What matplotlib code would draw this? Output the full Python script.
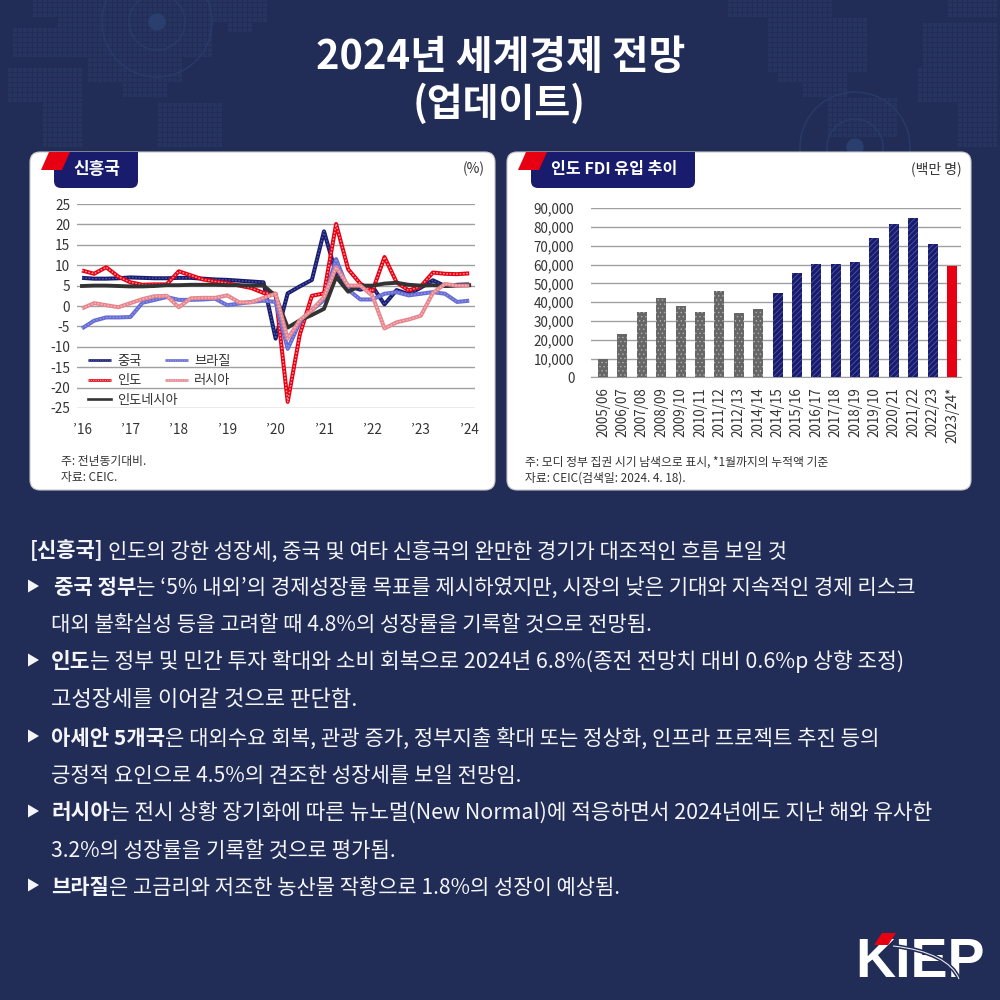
import matplotlib
matplotlib.use('Agg')
import matplotlib.pyplot as plt
import matplotlib.patheffects as pe
from matplotlib.patches import FancyBboxPatch, Polygon, Circle, Rectangle, PathPatch
from matplotlib.path import Path

plt.rcParams['font.family'] = ['Noto Sans CJK KR', 'DejaVu Sans']
plt.rcParams['axes.unicode_minus'] = False

# quarterly y/y growth, 2016Q1 - 2024Q1
china = [6.9, 6.7, 6.7, 6.8, 7.0, 6.9, 6.8, 6.8, 6.9, 6.9, 6.7, 6.5, 6.4, 6.2, 6.0, 5.8, -8.0, 3.1, 4.8,
         6.4, 18.3, 7.9, 4.9, 4.0, 4.8, 0.4, 3.9, 2.9, 4.5, 6.3, 4.9, 5.2, 5.3]
india = [8.7, 7.9, 9.5, 7.2, 5.8, 5.2, 5.3, 5.3, 8.5, 7.5, 6.5, 6.0, 5.6, 5.0, 4.4, 3.2, 3.0, -23.5, -7.0,
         2.5, 3.1, 20.1, 9.0, 5.5, 3.6, 12.0, 5.8, 3.8, 4.8, 8.2, 7.9, 7.8, 8.0]
brazil = [-5.5, -3.6, -2.8, -2.8, -2.7, 0.8, 1.5, 2.2, 1.5, 1.5, 1.6, 1.8, 0.2, 0.6, 1.0, 1.3, 1.0, -10.5, -4.0,
          -1.0, 1.5, 11.5, 4.0, 1.6, 1.6, 3.0, 3.4, 2.6, 3.0, 3.4, 3.0, 1.0, 1.3]
russia = [-0.6, 0.7, 0.2, -0.3, 0.7, 1.7, 2.4, 2.5, -0.3, 1.9, 2.0, 2.0, 2.6, 0.9, 0.9, 2.0, 3.0, -8.0, -3.5,
          -1.0, 2.2, 9.5, 5.0, 5.0, 2.5, -5.5, -4.0, -3.3, -2.4, 3.2, 5.4, 5.0, 5.0]
indonesia = [4.9, 5.0, 5.0, 4.9, 4.8, 4.8, 4.9, 5.1, 5.1, 5.2, 5.2, 5.2, 5.1, 5.1, 5.0, 5.0, 2.5, -5.3, -3.5,
             -2.2, -0.7, 7.1, 3.5, 5.0, 5.0, 5.5, 5.7, 5.2, 5.0, 5.1, 4.9, 5.0, 5.1]
year_labels = ["’16", "’17", "’18", "’19", "’20", "’21", "’22", "’23", "’24"]

fy_labels = ['2005/06', '2006/07', '2007/08', '2008/09', '2009/10', '2010/11', '2011/12', '2012/13', '2014/14',
             '2014/15', '2015/16', '2016/17', '2017/18', '2018/19', '2019/10', '2020/21', '2021/22', '2022/23',
             '2023/24*']
fdi = [10000, 23100, 34800, 42100, 37800, 34800, 46000, 34200, 36300, 45100, 55600, 60200, 60200, 61200,
       74300, 81700, 84800, 71000, 59500]

# parts are (text, bold), then left edge, text centre and right edge in pixels
body_lines = [
    ([('[신흥국]', True), (' 인도의 강한 성장세, 중국 및 여타 신흥국의 완만한 경기가 대조적인 흐름 보일 것', False)], 30, 550, 788),
    ([('중국 정부', True), ('는 ‘5% 내외’의 경제성장률 목표를 제시하였지만, 시장의 낮은 기대와 지속적인 경제 리스크', False)], 54, 586, 917),
    ([('대외 불확실성 등을 고려할 때 4.8%의 성장률을 기록할 것으로 전망됨.', False)], 51, 623, 652),
    ([('인도', True), ('는 정부 및 민간 투자 확대와 소비 회복으로 2024년 6.8%(종전 전망치 대비 0.6%p 상향 조정)', False)], 51, 660, 905),
    ([('고성장세를 이어갈 것으로 판단함.', False)], 51, 698, 357),
    ([('아세안 5개국', True), ('은 대외수요 회복, 관광 증가, 정부지출 확대 또는 정상화, 인프라 프로젝트 추진 등의', False)], 51, 737, 878),
    ([('긍정적 요인으로 4.5%의 견조한 성장세를 보일 전망임.', False)], 51, 774, 522),
    ([('러시아', True), ('는 전시 상황 장기화에 따른 뉴노멀(New Normal)에 적응하면서 2024년에도 지난 해와 유사한', False)], 51, 811, 933),
    ([('3.2%의 성장률을 기록할 것으로 평가됨.', False)], 51, 849, 396),
    ([('브라질', True), ('은 고금리와 저조한 농산물 작황으로 1.8%의 성장이 예상됨.', False)], 51, 886, 620),
]
bullet_rows = [586, 660, 736, 811, 885]

BG = '#212c57'
NAVY = '#191c6c'
RED = '#e60012'
TXT = '#333333'

fig = plt.figure(figsize=(10, 10), dpi=100, facecolor=BG)
bg = fig.add_axes([0, 0, 1, 1])
bg.set_xlim(0, 1000)
bg.set_ylim(1000, 0)
bg.axis('off')
renderer = fig.canvas.get_renderer()


def px_axes(x0, x1, y0, y1):
    ax = fig.add_axes([x0 / 1000, 1 - y1 / 1000, (x1 - x0) / 1000, (y1 - y0) / 1000])
    ax.patch.set_visible(False)
    return ax


def advance(s, size, weight):
    # measure with a guard glyph so spaces at the ends are counted
    a = bg.text(0, 0, s + '|', fontsize=size, fontweight=weight)
    b = bg.text(0, 0, '|', fontsize=size, fontweight=weight)
    w = a.get_window_extent(renderer).width - b.get_window_extent(renderer).width
    a.remove()
    b.remove()
    return w


def fit_line(parts, x0, yc, x1, color='#f4f5f8'):
    nat = sum(advance(s, 14, 'bold' if b else 'medium') for s, b in parts)
    size = 14 * (x1 - x0) / nat
    x = x0
    for s, b in parts:
        w = 'bold' if b else 'medium'
        bg.text(x + (advance(s, size, w) - advance(s.lstrip(), size, w)), yc + size * 0.50, s.lstrip(),
                fontsize=size, fontweight=w, color=color, va='baseline', ha='left')
        x += advance(s, size, w)


# faint dotted world map behind the title
map_blocks = [(38, 62, 0, 18), (68, 270, 0, 22), (62, 215, 22, 60), (15, 80, 30, 60), (90, 185, 60, 85),
              (10, 85, 72, 105), (45, 85, 105, 150), (160, 225, 105, 150), (125, 170, 85, 100),
              (230, 255, 0, 35), (730, 835, 0, 20), (770, 870, 20, 75), (780, 850, 75, 85), (805, 850, 85, 100),
              (830, 900, 100, 140), (925, 1000, 25, 75), (920, 1000, 72, 105), (960, 1000, 105, 150),
              (950, 1000, 0, 18)]
dx, dy = [], []
for x0, x1, y0, y1 in map_blocks:
    for xx in range(x0 - x0 % 5, x1, 5):
        for yy in range(y0 - y0 % 5, y1, 5):
            dx.append(xx)
            dy.append(yy)
bg.scatter(dx, dy, s=6, marker='s', color='#283460', linewidths=0, zorder=1)
for cx, cy in [(157, 22), (855, 147)]:
    bg.add_patch(Circle((cx, cy), 8, color='#2a3f6e', zorder=1.5))
    for r in (28, 55):
        bg.add_patch(Circle((cx, cy), r, fill=False, ec='#293a68', lw=1.1, zorder=1.5))

# title
fit_line([('2024년 세계경제 전망', True)], 316, 55, 685, 'white')
fit_line([('(업데이트)', True)], 413, 102, 586, 'white')

# cards with tabs
for x0, x1, tab_x1, title, tx0, tx1 in [(30, 495, 138, '신흥국', 73, 120), (507, 971, 695, '인도 FDI 유입 추이', 551, 677)]:
    bg.add_patch(FancyBboxPatch((x0 + 9, 161), x1 - x0 - 18, 320, boxstyle='round,pad=9,rounding_size=10',
                                fc='white', ec='#c8c8c8', lw=0.8, zorder=2))
    off = x0 - 30 if x0 == 30 else 477
    tab_x0 = 54 + off
    tab = FancyBboxPatch((tab_x0 + 7, 147), tab_x1 - tab_x0 - 14, 34, boxstyle='round,pad=7,rounding_size=7',
                         fc=NAVY, ec='none', zorder=3)
    bg.add_patch(tab)
    tab.set_clip_path(Rectangle((tab_x0, 152), tab_x1 - tab_x0, 40, transform=bg.transData))
    bg.add_patch(Polygon([(41 + off, 170), (49 + off, 152), (70 + off, 152), (62 + off, 170)], color=RED, lw=0, zorder=4))
    nat = advance(title, 14, 'bold')
    bg.text(tx0, 169, title, fontsize=14 * (tx1 - tx0) / nat, fontweight='bold', color='white', va='center', ha='left', zorder=5)

bg.text(485, 169, '(%)', fontsize=10, color=TXT, ha='right', va='center', zorder=5)
bg.text(962, 169, '(백만 명)', fontsize=10, color=TXT, ha='right', va='center', zorder=5)
bg.text(61, 461, '주: 전년동기대비.', fontsize=8.5, color=TXT, va='center', zorder=5)
bg.text(61, 478, '자료: CEIC.', fontsize=8.5, color=TXT, va='center', zorder=5)
bg.text(525, 462, '주: 모디 정부 집권 시기 남색으로 표시, *1월까지의 누적액 기준', fontsize=8.5, color=TXT, va='center', zorder=5)
bg.text(525, 478, '자료: CEIC(검색일: 2024. 4. 18).', fontsize=8.5, color=TXT, va='center', zorder=5)

# left chart
ax1 = px_axes(77, 475, 204, 408)
xs = list(range(len(china)))
SOLID = {'dash_offset': 0, 'dash_list': None}
series_style = {'중국': (NAVY, '#4a55b0'), '인도': (RED, '#ff9aa2'), '브라질': ('#666cd2', '#8e94e6'),
                '러시아': ('#e6858e', '#f4b8bc')}


def textured(ax, y, label):
    base, dot = series_style[label]
    ax.plot(xs, y, color=dot, lw=1.0, linestyle=(0, (1.2, 1.2)), label=label,
            path_effects=[pe.Stroke(linewidth=2.9, foreground=base, dashes=SOLID), pe.Normal()])


textured(ax1, china, '중국')
textured(ax1, india, '인도')
textured(ax1, brazil, '브라질')
ax1.plot(xs, indonesia, color='#333333', lw=2.8, label='인도네시아')
textured(ax1, russia, '러시아')

ax1.set_xlim(-5 / 12.1, 393 / 12.1)
ax1.set_ylim(-25, 25)
ax1.set_yticks(range(-25, 30, 5))
ax1.set_xticks(range(0, 33, 4))
ax1.set_xticklabels(year_labels)
ax1.grid(axis='y', color='#a0a0a0', lw=1)
ax1.set_axisbelow(True)
ax1.tick_params(axis='both', length=0, labelsize=9.8, labelcolor=TXT)
ax1.tick_params(axis='y', pad=5)
ax1.tick_params(axis='x', pad=10.5)
for s in ax1.spines.values():
    s.set_visible(False)
h, l = ax1.get_legend_handles_labels()
order = [l.index(n) for n in ['중국', '인도', '인도네시아', '브라질', '러시아']]
leg = ax1.legend([h[i] for i in order], [l[i] for i in order], ncol=2, frameon=False, fontsize=9.5,
                 loc='lower left', bbox_to_anchor=(0.02, -0.008), handlelength=1.75, handletextpad=0.5,
                 labelspacing=0.5, columnspacing=-1.0, labelcolor=TXT, borderaxespad=0, borderpad=0.2)
for line, text in zip(leg.get_lines(), leg.get_texts()):
    if text.get_text() in series_style:
        line.set_linewidth(0.7)
        line.set_path_effects([pe.Stroke(linewidth=1.9, foreground=series_style[text.get_text()][0], dashes=SOLID),
                               pe.Normal()])
    else:
        line.set_linewidth(1.9)

# right chart
ax2 = px_axes(591, 961, 208.3, 377.3)
bar_colors = ['#666666'] * 9 + [NAVY] * 9 + [RED]
hatches = ['....'] * 9 + ['//////'] * 9 + [None]
edges = ['#b0b0b0'] * 9 + ['#5560b4'] * 9 + [RED]
plt.rcParams['hatch.linewidth'] = 0.5
bars = ax2.bar(range(len(fdi)), fdi, width=0.516, color=bar_colors, linewidth=0, zorder=3)
for b, ha, ec in zip(bars, hatches, edges):
    b.set_hatch(ha)
    b.set_edgecolor(ec)
ax2.set_xlim(-12 / 19.39, 358 / 19.39)
ax2.set_ylim(0, 90000)
ax2.set_yticks(range(0, 100000, 10000))
ax2.set_yticklabels([f'{v:,}' for v in range(0, 100000, 10000)])
ax2.set_xticks(range(len(fy_labels)))
ax2.set_xticklabels(fy_labels, rotation=90, va='top', ha='center')
ax2.grid(axis='y', color='#a0a0a0', lw=1, zorder=0)
ax2.set_axisbelow(True)
ax2.tick_params(axis='both', length=0, labelsize=9.7, labelcolor=TXT)
ax2.tick_params(axis='y', pad=12)
ax2.tick_params(axis='x', pad=7)
for s in ax2.spines.values():
    s.set_visible(False)
ax2.spines['bottom'].set_visible(True)
ax2.spines['bottom'].set_color('#a0a0a0')

# body text
for parts, x0, yc, x1 in body_lines:
    fit_line(parts, x0, yc, x1)
for yc in bullet_rows:
    bg.add_patch(Polygon([(28, yc - 6.5), (39, yc), (28, yc + 6.5)], color='#f4f5f8', lw=0))

# logo
bg.text(855, 977, 'KIEP', fontsize=40, fontweight='bold', color='white', va='baseline', ha='left',
        family=['Liberation Sans Narrow', 'Liberation Sans'])
bg.add_patch(Polygon([(882, 933), (896, 933), (888, 945), (874, 945)], color=RED, lw=0, zorder=4))
swoosh = Path([(893, 946), (930, 950), (952, 962), (959, 979)], [Path.MOVETO, Path.CURVE4, Path.CURVE4, Path.CURVE4])
bg.add_patch(PathPatch(swoosh, fill=False, ec=BG, lw=3, zorder=4))
bg.add_patch(PathPatch(swoosh, fill=False, ec='#e8e8ee', lw=0.8, zorder=5))

fig.savefig('out.png', dpi=100, facecolor=BG)
